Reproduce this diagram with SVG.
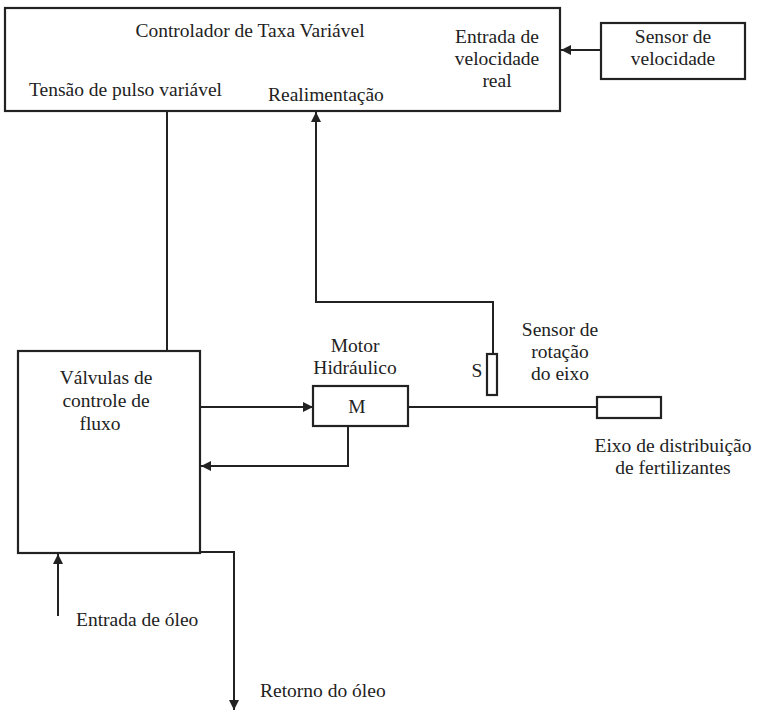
<svg xmlns="http://www.w3.org/2000/svg" width="765" height="711" viewBox="0 0 765 711">
<defs>
<style>
.c{text-anchor:middle;}
.box{fill:none;stroke:#222;stroke-width:2.2;}
.ln{fill:none;stroke:#222;stroke-width:2;}
</style>
<marker id="ah" viewBox="0 0 10 10" refX="10" refY="5" markerWidth="10" markerHeight="10" markerUnits="userSpaceOnUse" orient="auto">
<path d="M0,0 L10,5 L0,10 z" fill="#222"/>
</marker>
</defs>
<rect width="765" height="711" fill="#fff"/>
<g font-family="'Liberation Serif', 'Times New Roman', 'DejaVu Serif', serif" font-size="19.5" fill="#222">
<g id="controlador">
<rect class="box" x="5" y="8" width="555" height="103"/>
<text class="c" x="250" y="37">Controlador de Taxa Variável</text>
<text class="c" x="497" y="43">Entrada de</text>
<text class="c" x="497" y="65">velocidade</text>
<text class="c" x="497" y="87">real</text>
<text x="29" y="96">Tensão de pulso variável</text>
<text x="268" y="101">Realimentação</text>
</g>
<g id="sensor-velocidade">
<rect class="box" x="601" y="23" width="144" height="56"/>
<text class="c" x="673" y="43">Sensor de</text>
<text class="c" x="673" y="65">velocidade</text>
</g>
<g id="valvulas">
<rect class="box" x="18" y="351" width="182" height="202"/>
<text class="c" x="106" y="384">Válvulas de</text>
<text class="c" x="106" y="407">controle de</text>
<text class="c" x="100" y="430">fluxo</text>
</g>
<g id="motor">
<rect class="box" x="313" y="386" width="95" height="40"/>
<text class="c" x="357" y="413">M</text>
<text class="c" x="355" y="352">Motor</text>
<text class="c" x="355" y="374">Hidráulico</text>
</g>
<g id="sensor-rotacao">
<rect class="box" x="487" y="354" width="10" height="41"/>
<text class="c" x="477" y="377">S</text>
<text class="c" x="560" y="336">Sensor de</text>
<text class="c" x="560" y="358">rotação</text>
<text class="c" x="560" y="380">do eixo</text>
</g>
<g id="eixo">
<rect class="box" x="597" y="397" width="64" height="21"/>
<text class="c" x="673" y="452">Eixo de distribuição</text>
<text class="c" x="673" y="474">de fertilizantes</text>
</g>
<g id="labels-oleo">
<text x="76" y="626">Entrada de óleo</text>
<text x="260" y="697">Retorno do óleo</text>
</g>
</g>
<g id="connectors">
<line class="ln" x1="601" y1="50" x2="561" y2="50" marker-end="url(#ah)"/>
<line class="ln" x1="167" y1="111" x2="167" y2="351"/>
<polyline class="ln" points="493,354 493,302 316,302 316,112" marker-end="url(#ah)"/>
<line class="ln" x1="200" y1="407" x2="313" y2="407" marker-end="url(#ah)"/>
<polyline class="ln" points="348,426 348,466 201,466" marker-end="url(#ah)"/>
<line class="ln" x1="408" y1="407" x2="597" y2="407"/>
<line class="ln" x1="58" y1="616" x2="58" y2="554" marker-end="url(#ah)"/>
<polyline class="ln" points="200,552 234,552 234,710" marker-end="url(#ah)"/>
</g>
</svg>
